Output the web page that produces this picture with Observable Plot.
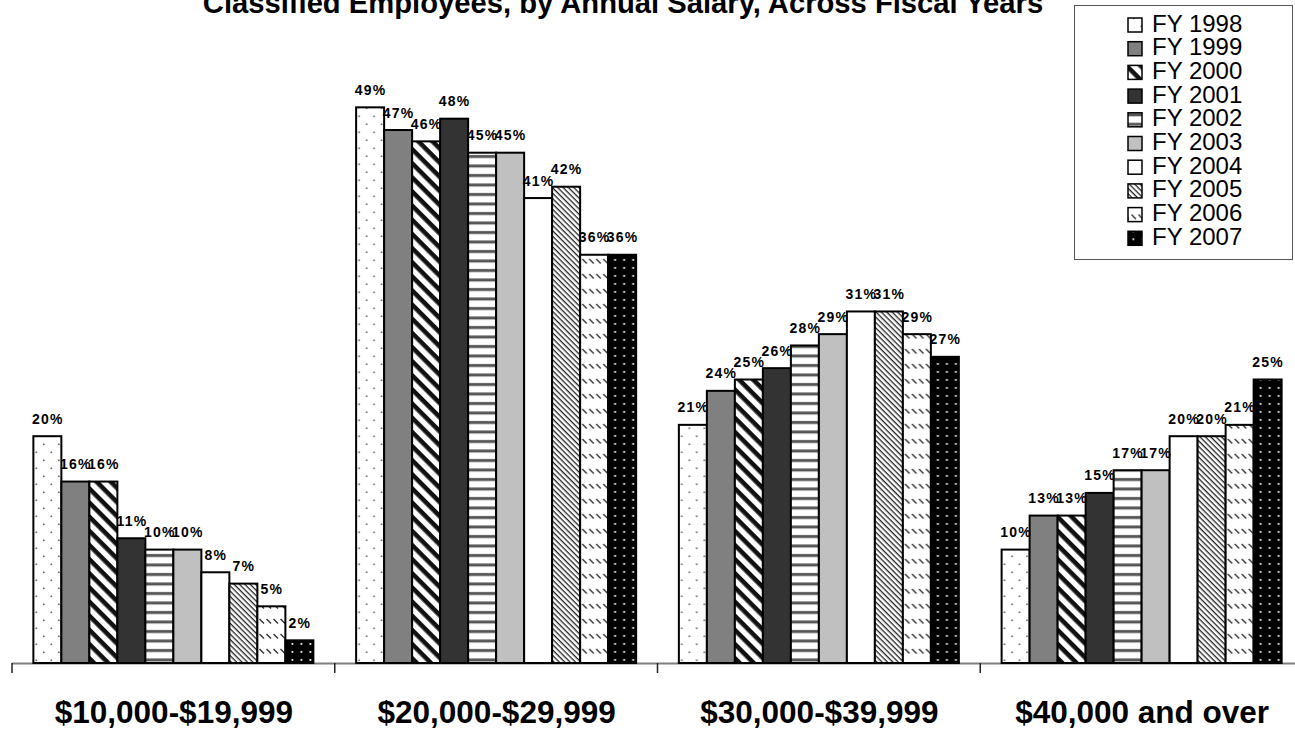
<!DOCTYPE html>
<html>
<head>
<meta charset="utf-8">
<script src="https://cdn.jsdelivr.net/npm/d3@7"></script>
<script src="https://cdn.jsdelivr.net/npm/@observablehq/plot@0.6"></script>
<style>
  html, body { margin: 0; padding: 0; background: white; overflow: hidden; }
  body { width: 1295px; height: 735px; position: relative; font-family: "Liberation Sans", Arial, sans-serif; }
  #chart { position: absolute; left: 0; top: 0; width: 1303px; }
  #chart svg { max-width: none !important; }
  #title { position: absolute; left: 0; top: -11px; width: 1246px; text-align: center; font-size: 29.2px; font-weight: bold; line-height: 1; color: #000; white-space: nowrap; z-index: 2; }
  #legend { position: absolute; left: 1074px; top: 5px; width: 217px; height: 253px; border: 1.5px solid #555; background: white; z-index: 2; }
</style>
</head>
<body>
<svg width="0" height="0" style="position:absolute">
  <defs>
    <pattern id="p1998" patternUnits="userSpaceOnUse" width="15" height="16">
      <rect width="15" height="16" fill="white"/>
      <rect x="5.5" y="3.5" width="1.6" height="1.6" fill="#666"/>
      <rect x="13" y="11.5" width="1.6" height="1.6" fill="#666"/>
    </pattern>
    <pattern id="p1999" patternUnits="userSpaceOnUse" width="4" height="4">
      <rect width="4" height="4" fill="#808080"/>
    </pattern>
    <pattern id="p2000" patternUnits="userSpaceOnUse" width="10" height="10" patternTransform="rotate(45)">
      <rect width="10" height="10" fill="white"/>
      <rect width="10" height="4.6" fill="#111"/>
    </pattern>
    <pattern id="p2001" patternUnits="userSpaceOnUse" width="4" height="4">
      <rect width="4" height="4" fill="#333333"/>
    </pattern>
    <pattern id="p2002" patternUnits="userSpaceOnUse" width="6" height="9.5">
      <rect width="6" height="9.5" fill="white"/>
      <rect y="3" width="6" height="3" fill="#555"/>
    </pattern>
    <pattern id="p2003" patternUnits="userSpaceOnUse" width="4" height="4">
      <rect width="4" height="4" fill="#c0c0c0"/>
    </pattern>
    <pattern id="p2004" patternUnits="userSpaceOnUse" width="4" height="4">
      <rect width="4" height="4" fill="white"/>
    </pattern>
    <pattern id="p2005" patternUnits="userSpaceOnUse" width="3.8" height="3.8" patternTransform="rotate(45)">
      <rect width="3.8" height="3.8" fill="white"/>
      <rect width="3.8" height="1.3" fill="#222"/>
    </pattern>
    <pattern id="p2006" patternUnits="userSpaceOnUse" width="7" height="15">
      <rect width="7" height="15" fill="white"/>
      <line x1="0.5" y1="4" x2="5" y2="8.5" stroke="#333" stroke-width="1.4"/>
    </pattern>
    <pattern id="p2007" patternUnits="userSpaceOnUse" width="9" height="8">
      <rect width="9" height="8" fill="black"/>
      <rect x="3.5" y="3" width="1.8" height="1.8" fill="#eee"/>
    </pattern>
  </defs>
</svg>
<div id="title">Classified Employees, by Annual Salary, Across Fiscal Years</div>
<div id="chart"></div>
<div id="legend"></div>
<script>
// ---- data ----
const categories = ["$10,000-$19,999", "$20,000-$29,999", "$30,000-$39,999", "$40,000 and over"];
const years = ["FY 1998", "FY 1999", "FY 2000", "FY 2001", "FY 2002", "FY 2003", "FY 2004", "FY 2005", "FY 2006", "FY 2007"];
const salary10to20 = [20, 16, 16, 11, 10, 10, 8, 7, 5, 2];
const salary20to30 = [49, 47, 46, 48, 45, 45, 41, 42, 36, 36];
const salary30to40 = [21, 24, 25, 26, 28, 29, 31, 31, 29, 27];
const salary40plus = [10, 13, 13, 15, 17, 17, 20, 20, 21, 25];
const patternIds = ["p1998", "p1999", "p2000", "p2001", "p2002", "p2003", "p2004", "p2005", "p2006", "p2007"];

const seriesByCategory = [salary10to20, salary20to30, salary30to40, salary40plus];
const data = categories.flatMap((c, i) => years.map((y, j) => ({category: c, year: y, value: seriesByCategory[i][j]})));
const patternFills = patternIds.map(id => `url(#${id})`);

const FONT = '"Liberation Sans", Arial, sans-serif';

const chart = Plot.plot({
  width: 1303,
  height: 735,
  marginLeft: 12,
  marginRight: 0,
  marginTop: 96,
  marginBottom: 72,
  style: {fontFamily: FONT, background: "white", color: "black", overflow: "visible", maxWidth: "none"},
  fx: {domain: categories, padding: 0, round: false, label: null},
  x: {domain: years, paddingInner: 0, paddingOuter: 0.763, round: false, axis: null},
  y: {domain: [0, 50], axis: null},
  color: {domain: years, range: patternFills},
  marks: [
    Plot.ruleY([0], {stroke: "#808080", strokeWidth: 2}),
    Plot.ruleY([0], {
      render: (index, scales) => {
        const y0 = scales.y(0);
        const r = scales.x.range();
        const g = d3.create("svg:g");
        g.append("line")
          .attr("x1", r[0]).attr("x2", r[0])
          .attr("y1", y0).attr("y2", y0 + 10)
          .attr("stroke", "#222").attr("stroke-width", 1.5);
        return g.node();
      }
    }),
    Plot.barY(data, {fx: "category", x: "year", y: "value", fill: "year", stroke: "black", strokeWidth: 2}),
    Plot.text(data, {
      fx: "category", x: "year", y: "value",
      text: d => d.value + "%",
      lineAnchor: "bottom", dy: -13,
      fontSize: 14, fontWeight: "bold", fill: "black",
      render: (i, s, v, d, c, next) => {
        const g = next(i, s, v, d, c);
        g.setAttribute("letter-spacing", "1.2");
        return g;
      }
    }),
    Plot.axisFx({anchor: "bottom", tickSize: 0, tickPadding: 37, fontSize: 31.5, fontWeight: "bold", label: null, fill: "black"})
  ]
});
document.getElementById("chart").appendChild(chart);

// ---- legend ----
const leg = d3.select("#legend").append("svg").attr("width", 217).attr("height", 253)
  .style("font-family", FONT);
years.forEach((y, i) => {
  const g = leg.append("g").attr("transform", `translate(0,${i * 23.7})`);
  g.append("rect").attr("x", 53).attr("y", 12).attr("width", 14).attr("height", 14)
    .attr("fill", patternFills[i]).attr("stroke", "black").attr("stroke-width", 1.5);
  g.append("text").attr("x", 77).attr("y", 25.5).attr("font-size", 24).attr("fill", "black").text(y);
});
</script>
</body>
</html>
